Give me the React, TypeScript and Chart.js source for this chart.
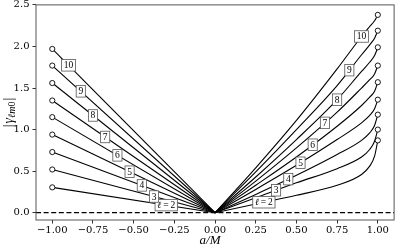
import React, { useEffect, useRef } from 'react';
import { Chart, registerables } from 'chart.js';

Chart.register(...registerables);

// ---- data ----
const ells = [2, 3, 4, 5, 6, 7, 8, 9, 10];
const labelTexts = ['2', '3', '4', '5', '6', '7', '8', '9', '10'];

// left branch (a/M from -1 to 0): straight lines
const xLeft = [-1, 0];
const gammaLeftL2 = [0.305, 0];
const gammaLeftL3 = [0.52, 0];
const gammaLeftL4 = [0.73, 0];
const gammaLeftL5 = [0.94, 0];
const gammaLeftL6 = [1.15, 0];
const gammaLeftL7 = [1.35, 0];
const gammaLeftL8 = [1.56, 0];
const gammaLeftL9 = [1.77, 0];
const gammaLeftL10 = [1.97, 0];

// right branch (a/M from 0 to 1)
const xRight = [0, 0.25, 0.5, 0.75, 0.9, 0.95, 0.98, 1.0];
const gammaRightL2 = [0, 0.105, 0.21, 0.33, 0.46, 0.56, 0.68, 0.87];
const gammaRightL3 = [0, 0.18, 0.36, 0.53, 0.67, 0.76, 0.86, 1.0];
const gammaRightL4 = [0, 0.22, 0.45, 0.7, 0.87, 0.96, 1.05, 1.18];
const gammaRightL5 = [0, 0.28, 0.57, 0.88, 1.08, 1.17, 1.25, 1.36];
const gammaRightL6 = [0, 0.33, 0.67, 1.04, 1.29, 1.39, 1.46, 1.57];
const gammaRightL7 = [0, 0.38, 0.78, 1.21, 1.5, 1.6, 1.67, 1.77];
const gammaRightL8 = [0, 0.43, 0.88, 1.36, 1.7, 1.81, 1.89, 1.99];
const gammaRightL9 = [0, 0.49, 1.0, 1.53, 1.9, 2.02, 2.1, 2.19];
const gammaRightL10 = [0, 0.54, 1.11, 1.73, 2.12, 2.24, 2.31, 2.38];

const gammaLeft = [gammaLeftL2, gammaLeftL3, gammaLeftL4, gammaLeftL5, gammaLeftL6, gammaLeftL7, gammaLeftL8, gammaLeftL9, gammaLeftL10];
const gammaRight = [gammaRightL2, gammaRightL3, gammaRightL4, gammaRightL5, gammaRightL6, gammaRightL7, gammaRightL8, gammaRightL9, gammaRightL10];

// inline label positions (a/M)
const labelXLeft = [-0.3, -0.375, -0.45, -0.525, -0.6, -0.675, -0.75, -0.825, -0.9];
const labelXRight = [0.3, 0.375, 0.45, 0.525, 0.6, 0.675, 0.75, 0.825, 0.9];

const xTicks = [-1, -0.75, -0.5, -0.25, 0, 0.25, 0.5, 0.75, 1];
const yTicks = [0, 0.5, 1, 1.5, 2, 2.5];
const xRange = [-1.1, 1.1];
const yRange = [-0.0876, 2.5];

// ---- helpers ----
const fmt = (v: number, d: number) => (v < 0 ? '\u2212' : '') + Math.abs(v).toFixed(d);

function interp(xs: number[], ys: number[], x: number): number {
  for (let i = 0; i < xs.length - 1; i++) {
    const a = Math.min(xs[i], xs[i + 1]);
    const b = Math.max(xs[i], xs[i + 1]);
    if (x >= a && x <= b) {
      const t = (x - xs[i]) / (xs[i + 1] - xs[i]);
      return ys[i] + t * (ys[i + 1] - ys[i]);
    }
  }
  return ys[ys.length - 1];
}

const SERIF = '"Liberation Serif", "DejaVu Serif", serif';

function drawLabelBox(ctx: CanvasRenderingContext2D, cx: number, cy: number, text: string, withEll: boolean) {
  ctx.save();
  const upright = `9.5px ${SERIF}`;
  const italic = `italic 9.5px ${SERIF}`;
  let parts: { t: string; f: string }[];
  if (withEll) {
    parts = [
      { t: 'ℓ', f: italic },
      { t: '\u2009=\u2009', f: upright },
      { t: text, f: upright },
    ];
  } else {
    parts = [{ t: text, f: upright }];
  }
  let w = 0;
  const widths = parts.map((p) => {
    ctx.font = p.f;
    const m = ctx.measureText(p.t).width;
    w += m;
    return m;
  });
  const padX = 2.2;
  const h = 11.5;
  const bw = w + 2 * padX;
  const x0 = cx - bw / 2;
  const y0 = cy - h / 2;
  ctx.fillStyle = '#fff';
  ctx.fillRect(x0, y0, bw, h);
  ctx.strokeStyle = '#555';
  ctx.lineWidth = 0.8;
  ctx.strokeRect(x0, y0, bw, h);
  ctx.fillStyle = '#000';
  ctx.textBaseline = 'middle';
  ctx.textAlign = 'left';
  let x = x0 + padX;
  parts.forEach((p, i) => {
    ctx.font = p.f;
    ctx.fillText(p.t, x, cy + 0.5);
    x += widths[i];
  });
  ctx.restore();
}

const decorPlugin = {
  id: 'decor',
  afterDatasetsDraw(chart: any) {
    const { ctx, scales } = chart;
    const xs = scales.x;
    const ys = scales.y;
    ells.forEach((ell, k) => {
      const isTwo = ell === 2;
      const lxL = labelXLeft[k];
      const lyL = interp(xLeft, gammaLeft[k], lxL);
      drawLabelBox(ctx, xs.getPixelForValue(lxL), ys.getPixelForValue(lyL), labelTexts[k], isTwo);
      const lxR = labelXRight[k];
      const lyR = interp(xRight, gammaRight[k], lxR);
      drawLabelBox(ctx, xs.getPixelForValue(lxR), ys.getPixelForValue(lyR), labelTexts[k], isTwo);
    });
  },
  afterDraw(chart: any) {
    const { ctx, chartArea } = chart;
    ctx.save();
    // frame
    ctx.strokeStyle = '#444';
    ctx.lineWidth = 0.9;
    ctx.strokeRect(chartArea.left, chartArea.top, chartArea.right - chartArea.left, chartArea.bottom - chartArea.top);

    // x axis title: a/M
    ctx.fillStyle = '#000';
    ctx.font = `italic 13px ${SERIF}`;
    ctx.textAlign = 'center';
    ctx.textBaseline = 'middle';
    const cxm = (chartArea.left + chartArea.right) / 2;
    ctx.fillText('a/M', cxm - 5, chartArea.bottom + 21);

    // y axis title: |γ_{ℓm0}|
    const cym = (chartArea.top + chartArea.bottom) / 2;
    ctx.translate(9.5, cym);
    ctx.rotate(-Math.PI / 2);
    const segs = [
      { t: '|', f: `14px ${SERIF}`, dy: 0, gap: 1 },
      { t: 'γ', f: `italic 14px ${SERIF}`, dy: 0, gap: 0 },
      { t: 'ℓm', f: `italic 10px ${SERIF}`, dy: 3, gap: 0 },
      { t: '0', f: `10px ${SERIF}`, dy: 3, gap: 1 },
      { t: '|', f: `14px ${SERIF}`, dy: 0, gap: 0 },
    ];
    let total = 0;
    const ws = segs.map((s) => {
      ctx.font = s.f;
      const m = ctx.measureText(s.t).width + s.gap;
      total += m;
      return m;
    });
    let x = -total / 2;
    ctx.textAlign = 'left';
    segs.forEach((s, i) => {
      ctx.font = s.f;
      ctx.fillText(s.t, x, s.dy);
      x += ws[i];
    });
    ctx.restore();
  },
};

export default function App() {
  const canvasRef = useRef<HTMLCanvasElement | null>(null);

  useEffect(() => {
    const canvas = canvasRef.current;
    if (!canvas) return;

    const datasets: any[] = [];
    datasets.push({
      data: [
        { x: xRange[0], y: 0 },
        { x: xRange[1], y: 0 },
      ],
      borderColor: '#000',
      borderWidth: 1.3,
      borderDash: [5, 2.6],
      pointRadius: 0,
      tension: 0,
    });
    ells.forEach((ell, k) => {
      datasets.push({
        label: `left ${ell}`,
        data: xLeft.map((x, i) => ({ x, y: gammaLeft[k][i] })),
        borderColor: '#000',
        borderWidth: 1.1,
        tension: 0,
        pointRadius: xLeft.map((x) => (x === -1 ? 2.6 : 0)),
        pointBackgroundColor: '#fff',
        pointBorderColor: '#000',
        pointBorderWidth: 0.9,
      });
      datasets.push({
        label: `right ${ell}`,
        data: xRight.map((x, i) => ({ x, y: gammaRight[k][i] })),
        borderColor: '#000',
        borderWidth: 1.1,
        cubicInterpolationMode: 'monotone',
        pointRadius: xRight.map((x) => (x === 1 ? 2.6 : 0)),
        pointBackgroundColor: '#fff',
        pointBorderColor: '#000',
        pointBorderWidth: 0.9,
      });
    });

    const chart = new Chart(canvas, {
      type: 'line',
      data: { datasets },
      options: {
        animation: false,
        responsive: false,
        devicePixelRatio: 1,
        layout: { padding: { top: 3.5, right: 2.5, left: 0, bottom: 0 } },
        plugins: { legend: { display: false }, tooltip: { enabled: false } },
        scales: {
          x: {
            type: 'linear',
            min: xRange[0],
            max: xRange[1],
            afterBuildTicks: (s: any) => {
              s.ticks = xTicks.map((v) => ({ value: v }));
            },
            afterFit: (s: any) => {
              s.height = 30;
              s.paddingLeft = 0;
              s.paddingRight = 0;
            },
            ticks: {
              autoSkip: false,
              maxRotation: 0,
              padding: 1,
              color: '#000',
              font: { family: 'DejaVu Serif', size: 10 },
              callback: (v: any) => fmt(Number(v), 2),
            },
            grid: { drawOnChartArea: false, drawTicks: true, tickLength: 3.5, color: '#000', lineWidth: 0.8 },
            border: { display: false },
          },
          y: {
            type: 'linear',
            min: yRange[0],
            max: yRange[1],
            afterBuildTicks: (s: any) => {
              s.ticks = yTicks.map((v) => ({ value: v }));
            },
            afterFit: (s: any) => {
              s.width = 36;
              s.paddingTop = 0;
              s.paddingBottom = 0;
            },
            ticks: {
              autoSkip: false,
              padding: 3,
              color: '#000',
              font: { family: 'DejaVu Serif', size: 10 },
              callback: (v: any) => fmt(Number(v), 1),
            },
            grid: { drawOnChartArea: false, drawTicks: true, tickLength: 3.5, color: '#000', lineWidth: 0.8 },
            border: { display: false },
          },
        },
      },
      plugins: [decorPlugin],
    });

    return () => chart.destroy();
  }, []);

  return (
    <div style={{ position: 'absolute', left: 0, top: 0, width: 399, height: 250, background: '#fff' }}>
      <canvas ref={canvasRef} width={399} height={250} style={{ display: 'block', width: 399, height: 250 }} />
    </div>
  );
}
